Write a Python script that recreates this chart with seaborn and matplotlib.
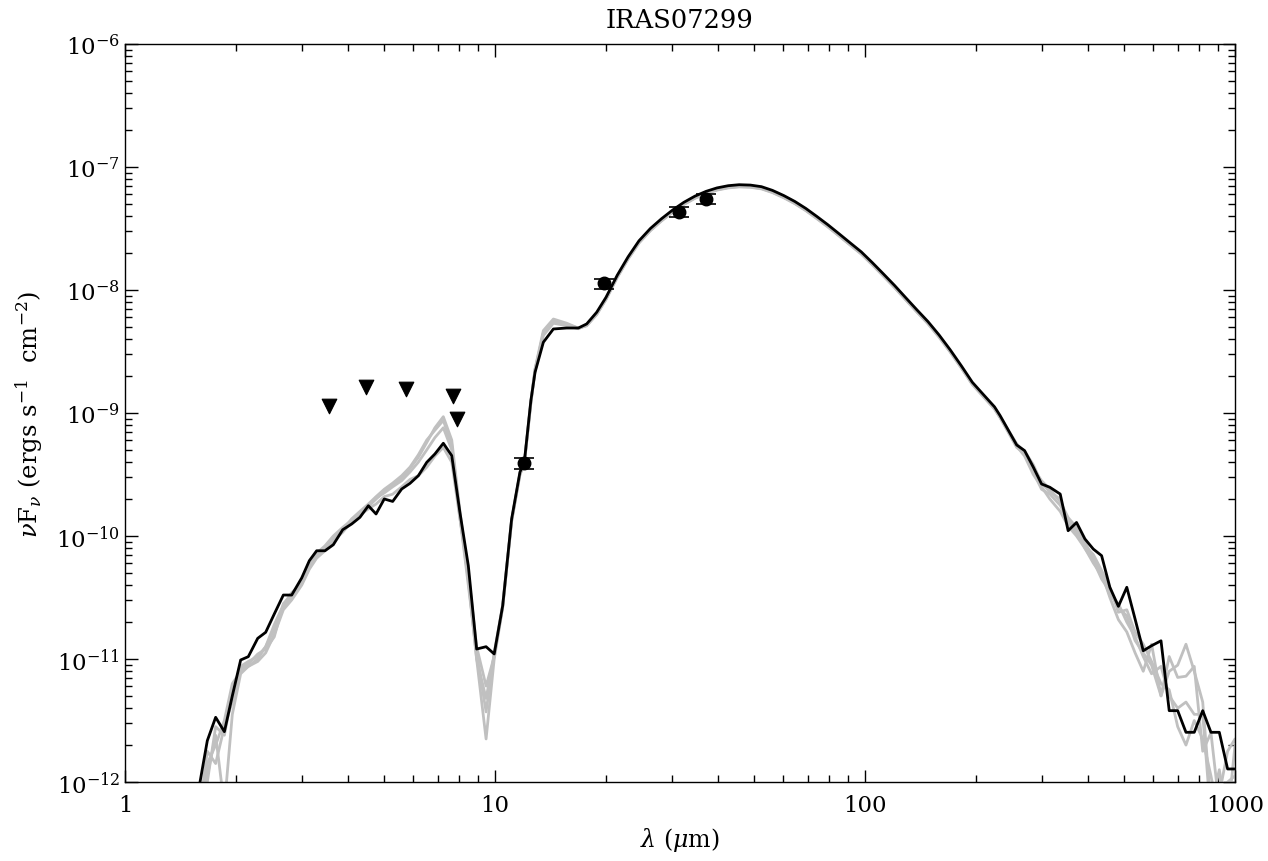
import numpy as np
import pandas as pd
import matplotlib
matplotlib.use("Agg")
import matplotlib.pyplot as plt
import seaborn as sns
from matplotlib.ticker import LogLocator, NullFormatter, FixedLocator, FixedFormatter

# --- model wavelength grid (micron) ---
wave = [
    # near-IR / silicate region
    1.55, 1.595, 1.669, 1.758, 1.856, 1.95, 2.054, 2.154, 2.284, 2.40,
    2.532, 2.679, 2.822, 3.003, 3.149, 3.296, 3.471, 3.656, 3.876, 4.10,
    4.315, 4.547, 4.77, 5.02, 5.29, 5.595, 5.892, 6.206, 6.54, 6.88,
    7.25, 7.64, 8.04, 8.47, 8.92, 9.46, 9.95, 10.49, 11.09, 11.68,
    # mid-IR shoulder
    12.0, 12.5, 12.83, 13.51, 14.38, 15.62, 16.8, 17.69, 18.83,
    # far-IR peak
    19.95, 21.4, 22.9, 24.5, 26.3, 28.2, 30.2, 32.4, 34.7, 37.2,
    39.8, 42.7, 45.7, 49.0, 52.5, 56.2, 60.3, 64.6, 69.2, 74.1,
    79.4, 85.1, 91.2, 97.7, 104.7, 112.2, 120.2, 128.8, 138.0, 147.9,
    158.5, 169.8, 182.0, 195.0, 208.9, 223.9, 231.7,
    # submm tail
    257, 270, 285, 300, 316, 337, 354, 373, 393, 414,
    436, 459, 484, 510, 537, 565, 595, 631, 664, 700,
    737, 776, 818, 861, 907, 955, 1000, 1050,
]

# --- best-fit model, log10(nu F_nu) ---
best_fit = [
    -12.15, -12.0, -11.664, -11.474, -11.591, -11.30, -11.008, -10.981, -10.832, -10.783,
    -10.634, -10.480, -10.480, -10.341, -10.201, -10.120, -10.120, -10.071, -9.949, -9.902,
    -9.848, -9.754, -9.821, -9.699, -9.719, -9.618, -9.572, -9.510, -9.401, -9.333,
    -9.246, -9.347, -9.809, -10.241, -10.919, -10.900, -10.959, -10.567, -9.862, -9.48,
    -9.40, -8.90, -8.669, -8.425, -8.317, -8.309, -8.309, -8.276, -8.181,
    -8.060, -7.880, -7.730, -7.600, -7.500, -7.420, -7.350, -7.287, -7.237, -7.198,
    -7.170, -7.152, -7.144, -7.147, -7.160, -7.190, -7.232, -7.280, -7.337, -7.402,
    -7.470, -7.543, -7.617, -7.690, -7.778, -7.870, -7.963, -8.062, -8.160, -8.256,
    -8.365, -8.485, -8.615, -8.750, -8.850, -8.950, -9.020,
    -9.26, -9.306, -9.44, -9.577, -9.604, -9.659, -9.957, -9.890, -10.024, -10.106,
    -10.160, -10.417, -10.572, -10.417, -10.675, -10.933, -10.892, -10.852, -11.42, -11.42,
    -11.596, -11.596, -11.42, -11.596, -11.596, -11.894, -11.894, -11.894,
]

# --- other good fits, log10(nu F_nu) ---
fit_a = [
    -12.6, -12.3, -11.95, -11.62, -12.2, -11.45, -11.12, -11.06, -11.02, -10.95,
    -10.80, -10.60, -10.52, -10.40, -10.27, -10.18, -10.12, -10.04, -9.97, -9.88,
    -9.82, -9.76, -9.70, -9.64, -9.58, -9.53, -9.45, -9.36, -9.24, -9.12,
    -9.03, -9.22, -9.80, -10.35, -11.0, -11.65, -11.0, -10.58, -9.88, -9.50,
    -9.41, -8.91, -8.64, -8.33, -8.236, -8.27, -8.31, -8.29, -8.20,
    -8.075, -7.895, -7.745, -7.615, -7.515, -7.435, -7.365, -7.302, -7.252, -7.213,
    -7.185, -7.167, -7.159, -7.162, -7.175, -7.205, -7.247, -7.295, -7.352, -7.417,
    -7.485, -7.558, -7.632, -7.705, -7.793, -7.885, -7.978, -8.077, -8.175, -8.271,
    -8.380, -8.500, -8.630, -8.765, -8.865, -8.965, -9.035,
    -9.28, -9.33, -9.45, -9.55, -9.62, -9.72, -9.85, -9.93, -10.10, -10.20,
    -10.35, -10.45, -10.58, -10.65, -10.85, -10.95, -11.05, -11.30, -11.10, -11.05,
    -10.88, -11.10, -11.35, -12.2, -11.9, -12.3, -11.7, -11.9,
]
fit_b = [
    -12.5, -12.2, -11.75, -11.85, -11.55, -11.35, -11.08, -11.04, -10.96, -10.92,
    -10.82, -10.55, -10.48, -10.38, -10.25, -10.16, -10.10, -10.02, -9.95, -9.86,
    -9.80, -9.74, -9.68, -9.62, -9.57, -9.51, -9.44, -9.34, -9.22, -9.14,
    -9.06, -9.26, -9.85, -10.40, -10.95, -11.43, -10.95, -10.56, -9.87, -9.49,
    -9.41, -8.92, -8.65, -8.35, -8.25, -8.28, -8.31, -8.29, -8.195,
    -8.072, -7.892, -7.742, -7.612, -7.512, -7.432, -7.362, -7.299, -7.249, -7.210,
    -7.182, -7.164, -7.156, -7.159, -7.172, -7.202, -7.244, -7.292, -7.349, -7.414,
    -7.482, -7.555, -7.629, -7.702, -7.790, -7.882, -7.975, -8.074, -8.172, -8.268,
    -8.377, -8.497, -8.627, -8.762, -8.862, -8.962, -9.032,
    -9.25, -9.32, -9.48, -9.62, -9.66, -9.75, -9.88, -9.95, -10.05, -10.18,
    -10.30, -10.50, -10.68, -10.78, -10.95, -11.10, -10.88, -11.30, -10.98, -11.15,
    -11.14, -11.06, -11.75, -11.60, -12.2, -12.2, -12.1, -12.3,
]
fit_c = [
    -12.7, -12.4, -12.0, -11.55, -11.62, -11.28, -11.06, -11.02, -10.98, -10.90,
    -10.76, -10.58, -10.50, -10.37, -10.24, -10.15, -10.10, -10.04, -9.96, -9.89,
    -9.83, -9.78, -9.74, -9.68, -9.66, -9.60, -9.54, -9.51, -9.44, -9.35,
    -9.28, -9.40, -9.86, -10.30, -10.90, -11.22, -10.98, -10.58, -9.88, -9.50,
    -9.41, -8.92, -8.66, -8.37, -8.27, -8.29, -8.315, -8.285, -8.195,
    -8.078, -7.898, -7.748, -7.618, -7.518, -7.438, -7.368, -7.305, -7.255, -7.216,
    -7.188, -7.170, -7.162, -7.165, -7.178, -7.208, -7.250, -7.298, -7.355, -7.420,
    -7.488, -7.561, -7.635, -7.708, -7.796, -7.888, -7.981, -8.080, -8.178, -8.274,
    -8.383, -8.503, -8.633, -8.768, -8.868, -8.968, -9.038,
    -9.27, -9.35, -9.50, -9.60, -9.70, -9.80, -9.92, -10.00, -10.10, -10.22,
    -10.32, -10.48, -10.55, -10.70, -10.82, -10.98, -11.12, -11.06, -11.30, -11.40,
    -11.35, -11.45, -11.45, -12.3, -12.1, -11.75, -11.65, -12.0,
]
fit_d = [
    -12.8, -12.35, -11.85, -11.70, -11.50, -11.20, -11.10, -11.06, -11.00, -10.90,
    -10.72, -10.56, -10.46, -10.39, -10.26, -10.14, -10.08, -10.00, -9.93, -9.87,
    -9.81, -9.76, -9.69, -9.65, -9.60, -9.55, -9.48, -9.40, -9.30, -9.20,
    -9.12, -9.30, -9.84, -10.36, -11.0, -11.32, -10.97, -10.57, -9.87, -9.49,
    -9.41, -8.91, -8.65, -8.36, -8.26, -8.285, -8.312, -8.288, -8.197,
    -8.070, -7.890, -7.740, -7.610, -7.510, -7.430, -7.360, -7.297, -7.247, -7.208,
    -7.180, -7.162, -7.154, -7.157, -7.170, -7.200, -7.242, -7.290, -7.347, -7.412,
    -7.480, -7.553, -7.627, -7.700, -7.788, -7.880, -7.973, -8.072, -8.170, -8.266,
    -8.375, -8.495, -8.625, -8.760, -8.860, -8.960, -9.030,
    -9.26, -9.31, -9.42, -9.57, -9.64, -9.70, -9.90, -9.97, -10.08, -10.15,
    -10.28, -10.42, -10.62, -10.60, -10.78, -10.88, -11.02, -11.20, -11.25, -11.55,
    -11.70, -11.50, -11.65, -11.95, -12.3, -12.0, -11.95, -12.1,
]
other_fits = [fit_a, fit_b, fit_c, fit_d]

# --- photometry (ergs s^-1 cm^-2) ---
det_wave = [12.0, 19.7, 31.5, 37.1]
det_flux = [3.9e-10, 1.13e-8, 4.3e-8, 5.5e-8]
det_err = [0.4e-10, 1.1e-9, 4.0e-9, 5.0e-9]

lim_wave = [3.55, 4.49, 5.73, 7.70, 7.87]
lim_flux = [1.14e-9, 1.63e-9, 1.57e-9, 1.37e-9, 8.9e-10]

title = "IRAS07299"
x_ticks = [1, 10, 100, 1000]
x_tick_labels = ["1", "10", "100", "1000"]
y_ticks = [1e-12, 1e-11, 1e-10, 1e-9, 1e-8, 1e-7, 1e-6]
y_tick_labels = ["10$^{\\mathdefault{-%d}}$" % n for n in [12, 11, 10, 9, 8, 7, 6]]

sns.set_style("ticks")
plt.rcParams["font.family"] = ["DejaVu Serif"]
plt.rcParams["mathtext.fontset"] = "dejavuserif"
plt.rcParams["text.color"] = "black"
plt.rcParams["axes.labelcolor"] = "black"

fig = plt.figure(figsize=(12.68, 8.62), dpi=100)
ax = fig.add_axes([125 / 1268, 1 - 783 / 862, 1110 / 1268, 738 / 862])

wave_arr = np.array(wave)
frames = []
for i, fit in enumerate(other_fits):
    frames.append(pd.DataFrame({"wave": wave_arr, "flux": 10 ** np.array(fit), "model": f"m{i}"}))
grey_df = pd.concat(frames, ignore_index=True)
sns.lineplot(data=grey_df, x="wave", y="flux", units="model", estimator=None,
             sort=False, color="#c0c0c0", lw=2.0, ax=ax, legend=False)

best_df = pd.DataFrame({"wave": wave_arr, "flux": 10 ** np.array(best_fit)})
sns.lineplot(data=best_df, x="wave", y="flux", estimator=None, sort=False,
             color="black", lw=2.0, ax=ax, legend=False)

ax.errorbar(det_wave, det_flux, yerr=det_err, fmt="o", color="black",
            ms=9, capsize=7, elinewidth=1.2, capthick=1.2, zorder=5)
sns.scatterplot(x=lim_wave, y=lim_flux, marker="v", color="black", s=110,
                edgecolor="black", ax=ax, zorder=5)

ax.set_xscale("log")
ax.set_yscale("log")
ax.set_xlim(1, 1000)
ax.set_ylim(1e-12, 1e-6)

ax.xaxis.set_major_locator(FixedLocator(x_ticks))
ax.xaxis.set_major_formatter(FixedFormatter(x_tick_labels))
ax.yaxis.set_major_locator(FixedLocator(y_ticks))
ax.yaxis.set_major_formatter(FixedFormatter(y_tick_labels))
ax.xaxis.set_minor_locator(LogLocator(base=10, subs=np.arange(2, 10)))
ax.yaxis.set_minor_locator(LogLocator(base=10, subs=np.arange(2, 10), numticks=20))
ax.xaxis.set_minor_formatter(NullFormatter())
ax.yaxis.set_minor_formatter(NullFormatter())

ax.tick_params(which="both", direction="in", top=True, right=True, colors="black",
               labelsize=16.5)
ax.tick_params(which="major", length=9, width=1)
ax.tick_params(which="minor", length=5, width=1)
ax.tick_params(axis="x", which="major", pad=9)
for sp in ax.spines.values():
    sp.set_color("black")
    sp.set_linewidth(1.0)

ax.set_xlabel("$\\lambda$ ($\\mu$m)", fontsize=17, labelpad=6, color="black")
ax.set_ylabel("$\\nu$F$_\\nu$ (ergs s$^{-1}$  cm$^{-2}$)", fontsize=17.5, labelpad=8,
              color="black")
ax.set_title(title, fontsize=18.5, pad=12, color="black")

fig.savefig("out.png", dpi=100)
